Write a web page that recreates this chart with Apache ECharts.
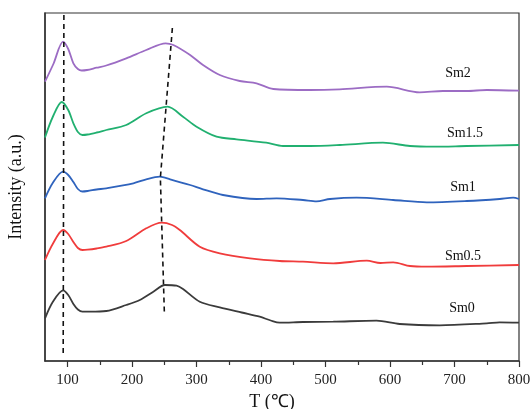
<!DOCTYPE html>
<html>
<head>
<meta charset="utf-8">
<script src="https://cdn.jsdelivr.net/npm/echarts@6/dist/echarts.min.js"></script>
<style>
  html, body { margin: 0; padding: 0; background: #fff; }
  #chart { width: 532px; height: 409px; }
</style>
</head>
<body>
<div id="chart"></div>
<script>
// TPD-style profiles: temperature (°C) vs. offset intensity (a.u.)
const sm0 = [[65,42.7],[77,59],[93,70.7],[101,66],[109,57],[116,51.5],[123,49.3],[135,49.3],[160,50],[191,56],[212,61],[233,69.3],[251,76],[269,75.3],[279,72],[305,59.3],[336,53.7],[370,48.5],[398,44.3],[415,40.5],[429,38.3],[465,39],[512,39.3],[579,40.3],[615,37],[677,35.7],[750,37.7],[770,38.7],[800,38.3]];
const sm05 = [[65,101],[77,117],[93,131],[101,127],[109,119],[116,113],[123,111],[131,111.3],[145,112.5],[160,114.3],[191,120],[222,132.7],[246,138.3],[262,136],[274,131],[305,114.3],[336,107.7],[383,102.7],[429,100],[465,99.3],[512,97.7],[564,100.3],[585,98],[605,98.7],[631,95],[657,94.3],[719,95],[800,96]];
const sm1 = [[65,162.7],[77,178],[93,189.3],[101,186],[109,179],[116,172],[123,169.5],[131,170],[145,171.5],[160,172.7],[202,177.7],[222,181.7],[243,184.3],[259,181.7],[290,176],[310,171.7],[341,166],[393,162],[424,162.7],[465,161],[486,159.7],[507,162],[548,163.3],[605,161],[657,158.7],[719,160],[770,162],[791,163.3],[800,162]];
const sm15 = [[65,223.5],[77,244],[91,259],[101,251],[109,237.7],[116,229],[123,226],[131,226.5],[145,228.5],[160,231],[191,236],[222,247.7],[255,254.3],[279,244.3],[300,234.3],[331,224.3],[362,221.7],[408,218.3],[434,215],[476,215],[522,216],[589,218.3],[631,215],[667,214.3],[719,215],[800,216]];
const sm2 = [[65,279.3],[78,297],[93,319.3],[101,312],[109,297.7],[116,292],[122,290.5],[130,291],[145,293.3],[160,295.5],[191,302.7],[222,311],[252,317.7],[264,316],[290,306],[310,296],[336,286],[367,280],[393,277.7],[419,272],[476,271],[522,271.7],[595,274.3],[646,268.7],[682,270],[719,270],[750,271],[800,270.3]];

// peak-position guide lines
const guideLow = [[94.3,346],[93.2,5]];
const guideHigh = [[262.5,333],[243.9,183],[250.1,48]];

const sampleNames = ['Sm0','Sm0.5','Sm1','Sm1.5','Sm2'];
const majorTicks = [100,200,300,400,500,600,700,800];
const minorTicks = [150,250,350,450,550,650,750];

const serif = "'Liberation Serif', 'Times New Roman', serif";
const colors = ['#3b3b3b','#f03c3c','#2f63bd','#21b070','#9c6cc4'];
const curves = [sm0, sm05, sm1, sm15, sm2];

const series = curves.map((d, i) => ({
  name: sampleNames[i],
  type: 'line',
  data: d,
  smooth: 0.3,
  symbol: 'none',
  lineStyle: { color: colors[i], width: 1.8 },
  z: 3
}));
[guideLow, guideHigh].forEach(g => series.push({
  type: 'line',
  data: g,
  symbol: 'none',
  lineStyle: { color: '#111', width: 1.6, type: [5, 4] },
  z: 4
}));

// sample tags at the right side of each trace
const tagPos = [[462,308],[463,256],[463,187],[465,133],[458,73]];
const graphic = sampleNames.map((n, i) => ({
  type: 'text',
  x: tagPos[i][0], y: tagPos[i][1],
  style: { text: n, font: '14px ' + serif, fill: '#111', align: 'center', verticalAlign: 'middle' }
}));

const chart = echarts.init(document.getElementById('chart'));
chart.setOption({
  animation: false,
  backgroundColor: '#fff',
  grid: { left: 45, right: 13, top: 13, bottom: 48, outerBoundsMode: 'none', containLabel: false, show: true, borderColor: '#333', borderWidth: 1.2, backgroundColor: 'transparent' },
  xAxis: [{
    type: 'value', min: 65, max: 800,
    name: 'T (℃)', nameLocation: 'middle', nameGap: 28,
    nameTextStyle: { fontFamily: serif, fontSize: 18, color: '#111', padding: [0, 20, 0, 0] },
    axisLine: { show: true, lineStyle: { color: '#333', width: 1.5 } },
    axisTick: { show: true, customValues: majorTicks, length: 6, lineStyle: { color: '#333', width: 1.2 } },
    axisLabel: { customValues: majorTicks, fontFamily: serif, fontSize: 15, color: '#222', margin: 12 },
    splitLine: { show: false }
  }, {
    type: 'value', min: 65, max: 800, position: 'bottom',
    axisLine: { show: false },
    axisTick: { show: true, customValues: minorTicks, length: 4, lineStyle: { color: '#333', width: 1.2 } },
    axisLabel: { show: false },
    splitLine: { show: false }
  }],
  yAxis: {
    type: 'value', min: 0, max: 348,
    name: 'Intensity (a.u.)', nameLocation: 'middle', nameGap: 20,
    nameTextStyle: { fontFamily: serif, fontSize: 18, color: '#111' },
    axisLine: { show: true, lineStyle: { color: '#333', width: 1.5 } },
    axisTick: { show: false },
    axisLabel: { show: false },
    splitLine: { show: false }
  },
  series: series,
  graphic: graphic
});
</script>
</body>
</html>
